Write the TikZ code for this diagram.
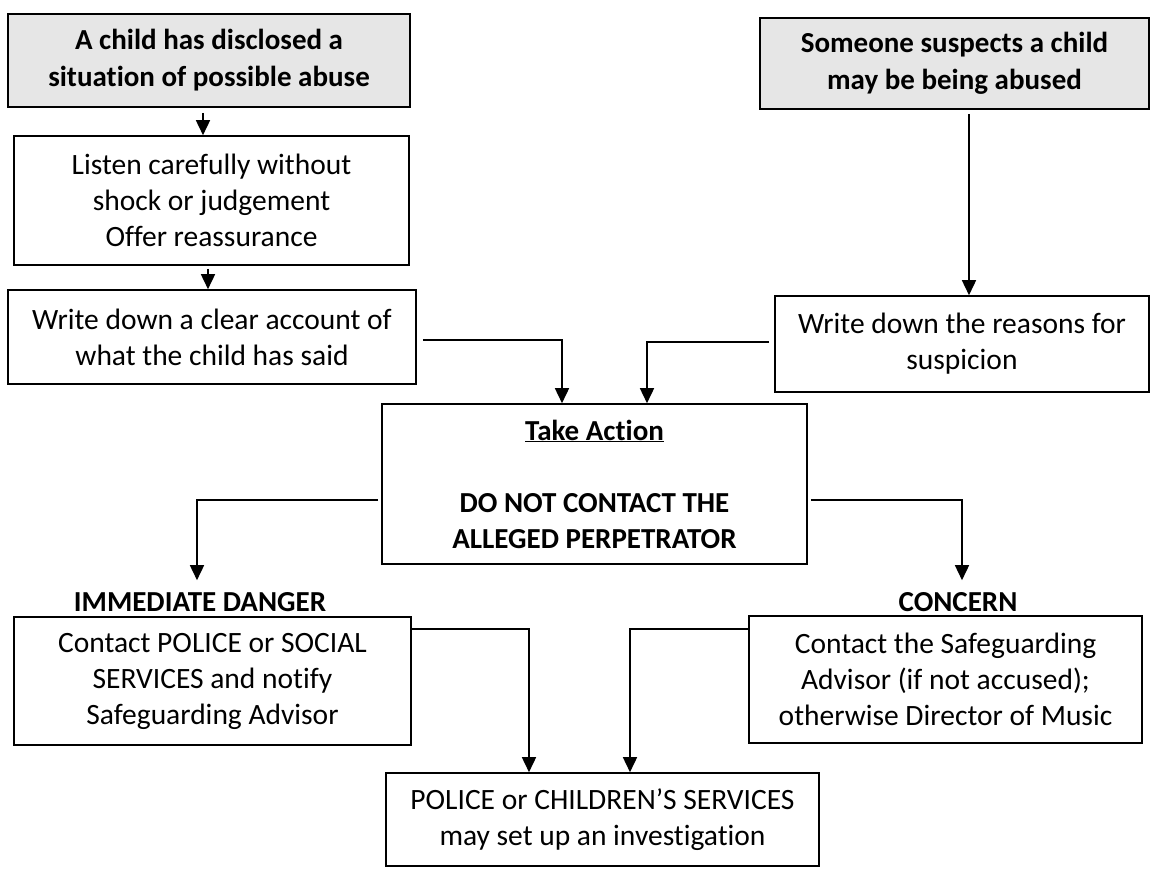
\documentclass[tikz,border=0pt]{standalone}
\usepackage{fontspec}
\setmainfont{Carlito}[RawFeature={-liga}]
\usetikzlibrary{arrows.meta}
\definecolor{boxgray}{RGB}{230,230,230}
\begin{document}
\begin{tikzpicture}[x=1pt,y=-1pt,
  every node/.style={font=\fontsize{29.5}{36}\selectfont, align=center, inner sep=0pt},
  flowbox/.style={draw=black, line width=1.6pt, rectangle},
  startbox/.style={flowbox, fill=boxgray, font=\fontsize{29}{37}\selectfont\bfseries},
  heading/.style={font=\fontsize{29}{36}\selectfont\bfseries},
  arr/.style={line width=1.6pt, -{Triangle[length=15pt,width=14pt]}},
  conn/.style={line width=1.6pt}
]
\useasboundingbox (0,0) rectangle (1151,868);

\node[startbox, minimum width=402pt, minimum height=93pt] (b1) at (209,60.5)
  {A child has disclosed a\\situation of possible abuse};
\node[flowbox, minimum width=395pt, minimum height=129pt] (b2) at (211.5,200.5)
  {Listen carefully without\\shock or judgement\\Offer reassurance};
\node[flowbox, minimum width=408pt, minimum height=94pt] (b3) at (212,337)
  {Write down a clear account of\\what the child has said};
\node[startbox, minimum width=389pt, minimum height=91pt] (b4) at (954.5,63.5)
  {Someone suspects a child\\may be being abused};
\node[flowbox, minimum width=374pt, minimum height=96pt] (b5) at (962,344)
  {Write down the reasons for\\suspicion};
\node[flowbox, minimum width=425pt, minimum height=160pt, font=\fontsize{29}{36}\selectfont\bfseries] (ta) at (594.5,484)
  {\underline{Take Action}\\[36pt]DO NOT CONTACT THE\\ALLEGED PERPETRATOR};
\node[heading] (danger) at (200,602) {IMMEDIATE DANGER};
\node[heading] (concern) at (958,602) {CONCERN};
\node[flowbox, minimum width=397pt, minimum height=128pt] (b6) at (212.5,681)
  {Contact POLICE or SOCIAL\\SERVICES and notify\\Safeguarding Advisor};
\node[flowbox, minimum width=393pt, minimum height=127pt] (b7) at (945.5,679.5)
  {Contact the Safeguarding\\Advisor (if not accused);\\otherwise Director of Music};
\node[flowbox, minimum width=433pt, minimum height=93pt] (b8) at (602.5,819.5)
  {POLICE or CHILDREN'S SERVICES\\may set up an investigation};

% left column
\draw[arr] ([xshift=-6pt,yshift=-5pt]b1.south) -- ([xshift=-6pt]b1.south |- b2.north);
\draw[arr] ([xshift=-3.5pt,yshift=-3pt]b2.south) -- ([xshift=-3.5pt]b2.south |- b3.north);
% right column
\draw[arr] ([xshift=14.5pt,yshift=-4pt]b4.south) -- ([xshift=14.5pt]b4.south |- b5.north);
% into Take Action
\draw[arr] ([xshift=6pt,yshift=-3pt]b3.east) -| ([xshift=-32.5pt]ta.north);
\draw[arr] ([xshift=-5pt,yshift=2pt]b5.west) -| ([xshift=52.5pt]ta.north);
% out of Take Action
\draw[arr] ([xshift=-3pt,yshift=-16pt]ta.west) -| ([xshift=-3pt,yshift=12pt]danger.north);
\draw[arr] ([xshift=3pt,yshift=-16pt]ta.east) -| ([xshift=4pt,yshift=12pt]concern.north);
% into bottom box
\draw[arr] ([yshift=52pt]b6.east) -| ([xshift=-73.5pt]b8.north);
\draw[arr] ([yshift=50.5pt]b7.west) -| ([xshift=27.5pt]b8.north);
\end{tikzpicture}
\end{document}
